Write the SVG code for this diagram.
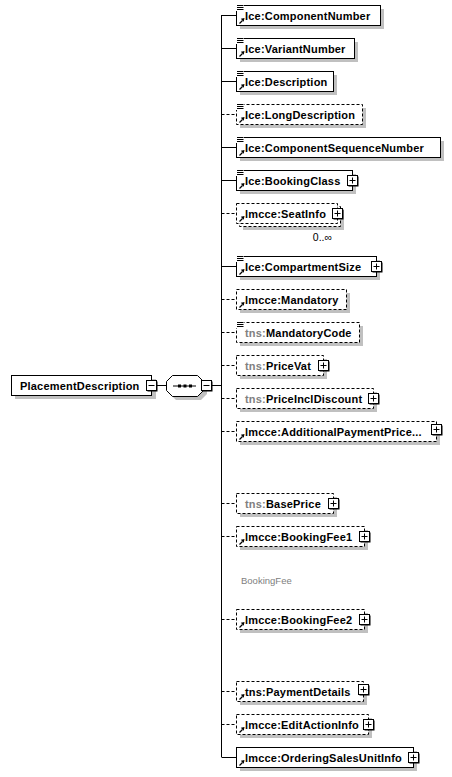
<svg xmlns="http://www.w3.org/2000/svg" xmlns:xlink="http://www.w3.org/1999/xlink" width="452" height="777" viewBox="0 0 452 777">
<style>
.box{fill:#fff;stroke:#000;stroke-width:1}
.opt{stroke-dasharray:3 2}
.sh{fill:#c0c0c0}
.t{font-family:"Liberation Sans",Arial,sans-serif;font-size:11px;font-weight:bold;fill:#000;letter-spacing:0.2px}
.ns{fill:#808080}
.small{font-family:"Liberation Sans",Arial,sans-serif;font-size:10.5px;fill:#000}
.note{font-family:"Liberation Sans",Arial,sans-serif;font-size:9.5px;fill:#808080}
.ln{stroke:#000;stroke-width:1;fill:none}
</style>
<defs>
<g id="simple"><rect x="0" y="-1" width="8" height="7" fill="#fff"/><path d="M1 0.5H7.5M1 2.5H7.5M1 4.5H7.5" stroke="#000" stroke-width="1"/></g>
<g id="ref"><path d="M3.5 18.5L6.5 15.5" stroke="#000" stroke-width="1.3"/><path d="M8.5 13L4.8 13.8L7.7 16.7Z" fill="#000"/></g>
<g id="plus"><rect x="1.5" y="1.5" width="10" height="10" fill="#000"/><rect x="0.5" y="0.5" width="10" height="10" fill="#fff" stroke="#000"/><path d="M2.5 5.5H8.5M5.5 2.5V8.5" stroke="#000"/></g>
<g id="minus"><rect x="1.5" y="1.5" width="10" height="10" fill="#000"/><rect x="0.5" y="0.5" width="10" height="10" fill="#fff" stroke="#000"/><path d="M2.5 5.5H8.5" stroke="#000"/></g>
</defs>

<g id="connectors">
<path class="ln" d="M157 385.5H166M212 385.5H221.5"/>
<path class="ln" d="M221.5 15V757"/>
<path class="ln" d="M221.5 15.5H236M221.5 48.5H236M221.5 81.5H236M221.5 147.5H236M221.5 180.5H236M221.5 266.5H236M221.5 757.5H236"/>
<path class="ln opt" d="M221.5 114.5H236M221.5 213.5H236M221.5 299.5H236M221.5 332.5H236M221.5 365.5H236M221.5 398.5H236M221.5 431.5H236M221.5 503.5H236M221.5 536.5H236M221.5 619.5H236M221.5 691.5H236M221.5 724.5H236"/>
</g>

<g id="PlacementDescription">
<rect class="sh" x="15" y="379" width="141" height="20"/>
<rect class="box" x="11.5" y="375.5" width="140" height="20"/>
<text class="t" x="20" y="390">PlacementDescription</text>
<use href="#minus" x="146" y="380"/>
</g>

<g id="sequence">
<polygon class="sh" points="176,379 201,379 207,385 207,394 201,400 176,400 170,394 170,385"/>
<polygon class="box" points="172.5,375.5 197.5,375.5 203.5,381.5 203.5,390.5 197.5,396.5 172.5,396.5 166.5,390.5 166.5,381.5"/>
<path class="ln" d="M173 386H196"/>
<rect x="178" y="384.5" width="3" height="3" fill="#000"/>
<rect x="183.5" y="384.5" width="3" height="3" fill="#000"/>
<rect x="189" y="384.5" width="3" height="3" fill="#000"/>
<use href="#minus" x="201" y="380"/>
</g>

<g id="n01" transform="translate(236,5)">
<rect class="sh" x="4" y="4" width="144" height="20"/>
<rect class="box" x="0.5" y="0.5" width="144" height="20"/>
<use href="#simple"/><use href="#ref"/>
<text class="t" x="9" y="14.5">Ice:ComponentNumber</text>
</g>

<g id="n02" transform="translate(236,38)">
<rect class="sh" x="4" y="4" width="118" height="20"/>
<rect class="box" x="0.5" y="0.5" width="118" height="20"/>
<use href="#simple"/><use href="#ref"/>
<text class="t" x="9" y="14.5">Ice:VariantNumber</text>
</g>

<g id="n03" transform="translate(236,71)">
<rect class="sh" x="4" y="4" width="97" height="20"/>
<rect class="box" x="0.5" y="0.5" width="97" height="20"/>
<use href="#simple"/><use href="#ref"/>
<text class="t" x="9" y="14.5">Ice:Description</text>
</g>

<g id="n04" transform="translate(236,104)">
<rect class="sh" x="4" y="4" width="126" height="20"/>
<rect class="box opt" x="0.5" y="0.5" width="126" height="20"/>
<use href="#simple"/><use href="#ref"/>
<text class="t" x="9" y="14.5">Ice:LongDescription</text>
</g>

<g id="n05" transform="translate(236,137)">
<rect class="sh" x="4" y="4" width="204" height="20"/>
<rect class="box" x="0.5" y="0.5" width="204" height="20"/>
<use href="#simple"/><use href="#ref"/>
<text class="t" x="9" y="14.5">Ice:ComponentSequenceNumber</text>
</g>

<g id="n06" transform="translate(236,170)">
<rect class="sh" x="4" y="4" width="116" height="20"/>
<rect class="box" x="0.5" y="0.5" width="116" height="20"/>
<use href="#simple"/><use href="#ref"/>
<text class="t" x="9" y="14.5">Ice:BookingClass</text>
<use href="#plus" x="111" y="5"/>
</g>

<g id="n07" transform="translate(236,203)">
<rect class="sh" x="7" y="7" width="101" height="20"/>
<rect class="box opt" x="3.5" y="3.5" width="101" height="20"/>
<rect class="box opt" x="0.5" y="0.5" width="101" height="20"/>
<use href="#ref"/>
<text class="t" x="9" y="14.5">lmcce:SeatInfo</text>
<use href="#plus" x="96" y="5"/>
<text class="small" x="96" y="38" text-anchor="end">0..∞</text>
</g>

<g id="n08" transform="translate(236,256)">
<rect class="sh" x="4" y="4" width="140" height="20"/>
<rect class="box" x="0.5" y="0.5" width="140" height="20"/>
<use href="#simple"/><use href="#ref"/>
<text class="t" x="9" y="14.5">Ice:CompartmentSize</text>
<use href="#plus" x="135" y="5"/>
</g>

<g id="n09" transform="translate(236,289)">
<rect class="sh" x="4" y="4" width="110" height="20"/>
<rect class="box opt" x="0.5" y="0.5" width="110" height="20"/>
<use href="#ref"/>
<text class="t" x="9" y="14.5">lmcce:Mandatory</text>
</g>

<g id="n10" transform="translate(236,322)">
<rect class="sh" x="4" y="4" width="123" height="20"/>
<rect class="box opt" x="0.5" y="0.5" width="123" height="20"/>
<use href="#simple"/>
<text class="t" x="9" y="14.5"><tspan class="ns">tns:</tspan>MandatoryCode</text>
</g>

<g id="n11" transform="translate(236,355)">
<rect class="sh" x="4" y="4" width="87" height="20"/>
<rect class="box opt" x="0.5" y="0.5" width="87" height="20"/>
<text class="t" x="9" y="14.5"><tspan class="ns">tns:</tspan>PriceVat</text>
<use href="#plus" x="82" y="5"/>
</g>

<g id="n12" transform="translate(236,388)">
<rect class="sh" x="4" y="4" width="137" height="20"/>
<rect class="box opt" x="0.5" y="0.5" width="137" height="20"/>
<text class="t" x="9" y="14.5"><tspan class="ns">tns:</tspan>PriceInclDiscount</text>
<use href="#plus" x="132" y="5"/>
</g>

<g id="n13" transform="translate(236,421)">
<rect class="sh" x="4" y="4" width="200" height="20"/>
<rect class="box opt" x="0.5" y="0.5" width="200" height="20"/>
<use href="#ref"/>
<text class="t" x="9" y="14.5">lmcce:AdditionalPaymentPrice...</text>
<use href="#plus" x="195" y="3"/>
</g>

<g id="n14" transform="translate(236,493)">
<rect class="sh" x="4" y="4" width="97" height="20"/>
<rect class="box opt" x="0.5" y="0.5" width="97" height="20"/>
<text class="t" x="9" y="14.5"><tspan class="ns">tns:</tspan>BasePrice</text>
<use href="#plus" x="92" y="5"/>
</g>

<g id="n15" transform="translate(236,526)">
<rect class="sh" x="4" y="4" width="128" height="20"/>
<rect class="box opt" x="0.5" y="0.5" width="128" height="20"/>
<use href="#ref"/>
<text class="t" x="9" y="14.5">lmcce:BookingFee1</text>
<use href="#plus" x="123" y="5"/>
</g>

<text id="BookingFeeLabel" class="note" x="241" y="584">BookingFee</text>

<g id="n16" transform="translate(236,609)">
<rect class="sh" x="4" y="4" width="128" height="20"/>
<rect class="box opt" x="0.5" y="0.5" width="128" height="20"/>
<use href="#ref"/>
<text class="t" x="9" y="14.5">lmcce:BookingFee2</text>
<use href="#plus" x="123" y="5"/>
</g>

<g id="n17" transform="translate(236,681)">
<rect class="sh" x="4" y="4" width="127" height="20"/>
<rect class="box opt" x="0.5" y="0.5" width="127" height="20"/>
<use href="#ref"/>
<text class="t" x="9" y="14.5">tns:PaymentDetails</text>
<use href="#plus" x="122" y="3"/>
</g>

<g id="n18" transform="translate(236,714)">
<rect class="sh" x="4" y="4" width="132" height="20"/>
<rect class="box opt" x="0.5" y="0.5" width="132" height="20"/>
<use href="#ref"/>
<text class="t" x="9" y="14.5">lmcce:EditActionInfo</text>
<use href="#plus" x="127" y="5"/>
</g>

<g id="n19" transform="translate(236,747)">
<rect class="sh" x="4" y="4" width="177" height="20"/>
<rect class="box" x="0.5" y="0.5" width="177" height="20"/>
<use href="#ref"/>
<text class="t" x="9" y="14.5">lmcce:OrderingSalesUnitInfo</text>
<use href="#plus" x="172" y="5"/>
</g>
</svg>
